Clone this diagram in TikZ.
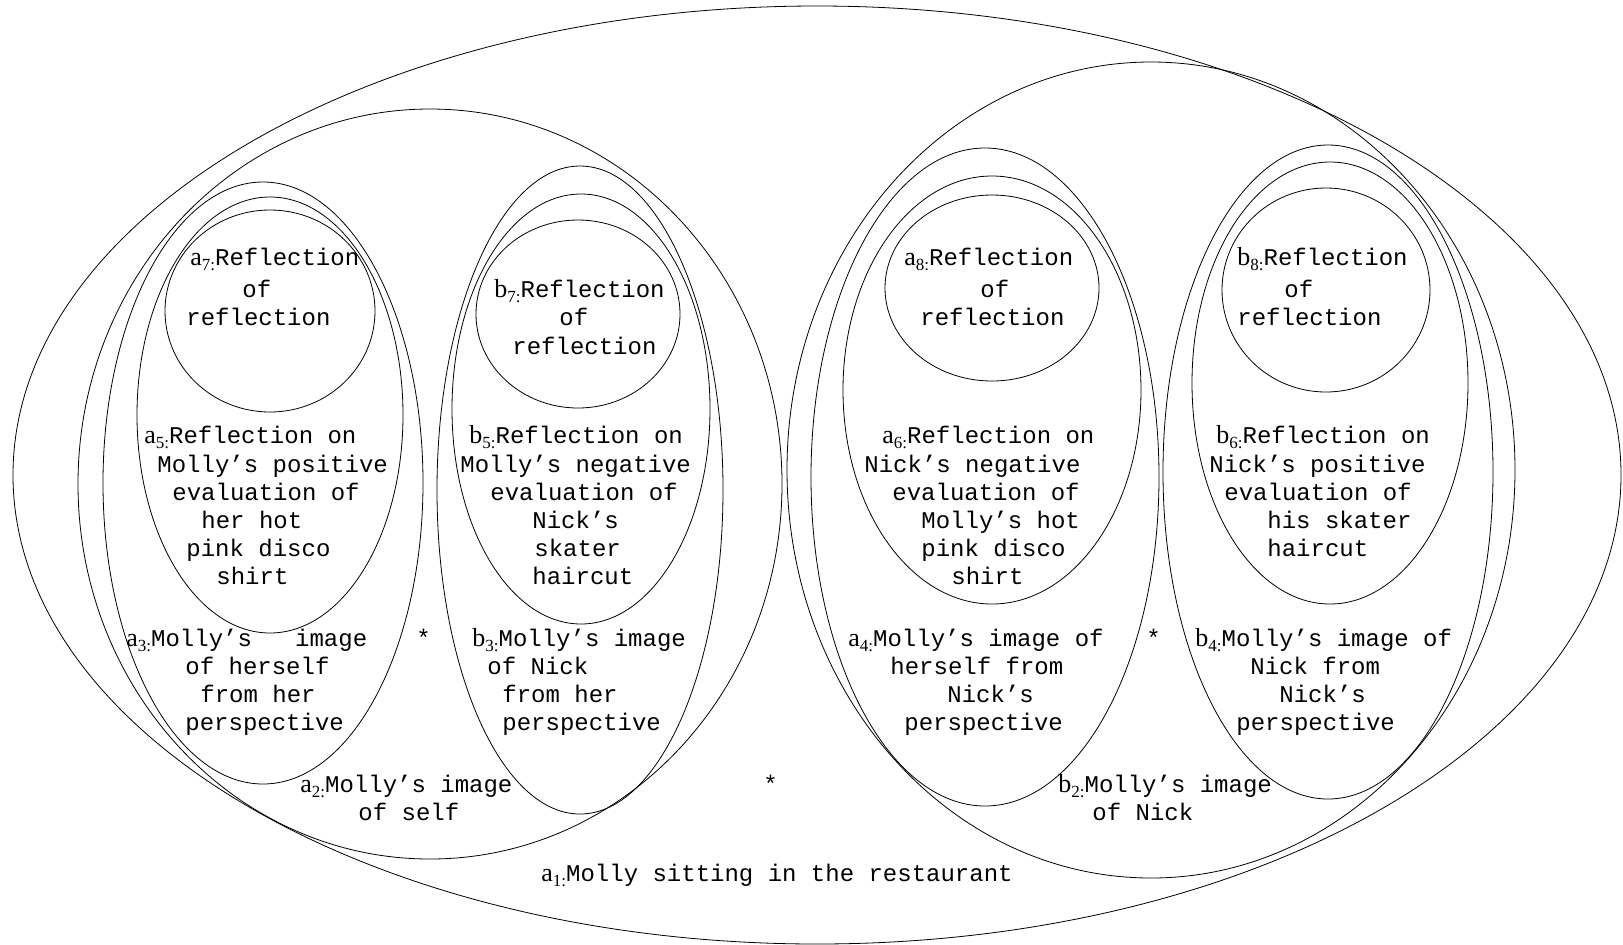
\documentclass[tikz,border=0pt]{standalone}
\usepackage{fontspec}
\setmonofont{Liberation Mono}
\newfontfamily\serf{Liberation Serif}
\usetikzlibrary{shapes.geometric}
\newcommand\lbl[2]{{\serf\fontsize{13}{14}\selectfont #1\raisebox{-2.6pt}{\fontsize{8.5}{9}\selectfont #2:}}}
\begin{document}
\begin{tikzpicture}[x=0.5pt,y=-0.5pt,
  ell/.style={draw, ellipse, inner sep=0pt, outer sep=0pt, line width=0.4pt},
  txt/.style={anchor=base west, inner sep=0pt, font=\ttfamily\fontsize{12}{14}\selectfont}]
\useasboundingbox (0,0) rectangle (1623,944);
% ellipses (centre, 2rx px = rx pt)
\node[ell, minimum width=804pt, minimum height=469pt] (a1) at (817,475) {};
\node[ell, minimum width=352pt, minimum height=375pt] (a2) at (430,484) {};
\node[ell, minimum width=160pt, minimum height=301pt] (a3) at (263,483) {};
\node[ell, minimum width=133pt, minimum height=218pt] (a5) at (270,415) {};
\node[ell, minimum width=105pt, minimum height=101pt] (a7) at (270,311) {};
\node[ell, minimum width=143pt, minimum height=324pt] (b3) at (580,490) {};
\node[ell, minimum width=129pt, minimum height=215pt] (b5) at (581,409) {};
\node[ell, minimum width=102pt, minimum height=94pt] (b7) at (578,314) {};
\node[ell, minimum width=364pt, minimum height=408pt] (b2) at (1151,470) {};
\node[ell, minimum width=174pt, minimum height=329pt] (a4) at (985,477) {};
\node[ell, minimum width=149pt, minimum height=214pt] (a6) at (992,390) {};
\node[ell, minimum width=107pt, minimum height=93pt] (a8) at (992,288) {};
\node[ell, minimum width=165pt, minimum height=327pt] (b4) at (1328,472) {};
\node[ell, minimum width=138pt, minimum height=221pt] (b6) at (1330,383) {};
\node[ell, minimum width=104pt, minimum height=102pt] (b8) at (1326,290) {};
% a7
\node[txt] (ta7a) at (190,265) {\lbl{a}{7}Reflection};
\node[txt] (ta7b) at (242,297) {of};
\node[txt] (ta7c) at (186,325) {reflection};
% b7
\node[txt] (tb7a) at (494,297) {\lbl{b}{7}Reflection};
\node[txt] (tb7b) at (559,325) {of};
\node[txt] (tb7c) at (512,354) {reflection};
% a8
\node[txt] (ta8a) at (904,265) {\lbl{a}{8}Reflection};
\node[txt] (ta8b) at (980,297) {of};
\node[txt] (ta8c) at (920,325) {reflection};
% b8
\node[txt] (tb8a) at (1237,265) {\lbl{b}{8}Reflection};
\node[txt] (tb8b) at (1284,297) {of};
\node[txt] (tb8c) at (1237,325) {reflection};
% a5
\node[txt] (ta5a) at (144,443) {\lbl{a}{5}Reflection on};
\node[txt] (ta5b) at (157,472) {Molly’s positive};
\node[txt] (ta5c) at (172,500) {evaluation of};
\node[txt] (ta5d) at (201,528) {her hot};
\node[txt] (ta5e) at (186,556) {pink disco};
\node[txt] (ta5f) at (216,584) {shirt};
% b5
\node[txt] (tb5a) at (469,443) {\lbl{b}{5}Reflection on};
\node[txt] (tb5b) at (460,472) {Molly’s negative};
\node[txt] (tb5c) at (490,500) {evaluation of};
\node[txt] (tb5d) at (532,528) {Nick’s};
\node[txt] (tb5e) at (534,556) {skater};
\node[txt] (tb5f) at (532,584) {haircut};
% a6
\node[txt] (ta6a) at (882,443) {\lbl{a}{6}Reflection on};
\node[txt] (ta6b) at (864,472) {Nick’s negative};
\node[txt] (ta6c) at (892,500) {evaluation of};
\node[txt] (ta6d) at (921,528) {Molly’s hot};
\node[txt] (ta6e) at (921,556) {pink disco};
\node[txt] (ta6f) at (951,584) {shirt};
% b6
\node[txt] (tb6a) at (1216,443) {\lbl{b}{6}Reflection on};
\node[txt] (tb6b) at (1209,472) {Nick’s positive};
\node[txt] (tb6c) at (1224,500) {evaluation of};
\node[txt] (tb6d) at (1267,528) {his skater};
\node[txt] (tb6e) at (1267,556) {haircut};
% a3
\node[txt] (ta3a) at (126,646) {\lbl{a}{3}Molly’s\ \ \ image};
\node[txt] (ta3b) at (185,674) {of herself};
\node[txt] (ta3c) at (200,702) {from her};
\node[txt] (ta3d) at (185,730) {perspective};
% b3
\node[txt] (tb3a) at (472,646) {\lbl{b}{3}Molly’s image};
\node[txt] (tb3b) at (487,674) {of Nick};
\node[txt] (tb3c) at (502,702) {from her};
\node[txt] (tb3d) at (502,730) {perspective};
% a4
\node[txt] (ta4a) at (848,646) {\lbl{a}{4}Molly’s image of};
\node[txt] (ta4b) at (890,674) {herself from};
\node[txt] (ta4c) at (947,702) {Nick’s};
\node[txt] (ta4d) at (904,730) {perspective};
% b4
\node[txt] (tb4a) at (1195,646) {\lbl{b}{4}Molly’s image of};
\node[txt] (tb4b) at (1250,674) {Nick from};
\node[txt] (tb4c) at (1279,702) {Nick’s};
\node[txt] (tb4d) at (1236,730) {perspective};
% a2, b2
\node[txt] (ta2a) at (300,792) {\lbl{a}{2}Molly’s image};
\node[txt] (ta2b) at (358,820) {of self};
\node[txt] (tb2a) at (1058,792) {\lbl{b}{2}Molly’s image};
\node[txt] (tb2b) at (1092,820) {of Nick};
% a1
\node[txt] (ta1) at (541,881) {\lbl{a}{1}Molly sitting in the restaurant};
% stars
\node[txt] (s1) at (416,646) {*};
\node[txt] (s2) at (1146,646) {*};
\node[txt] (s3) at (763,792) {*};
\end{tikzpicture}
\end{document}
